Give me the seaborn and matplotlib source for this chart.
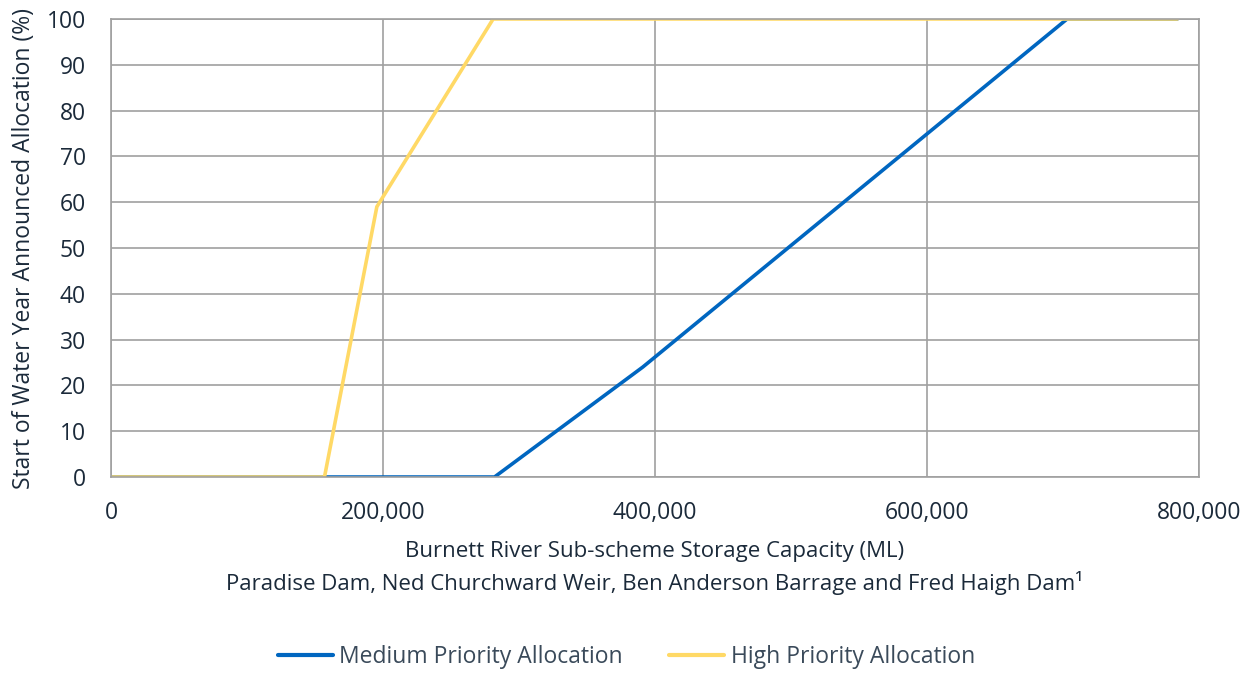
import pandas as pd
import matplotlib
matplotlib.use('Agg')
import matplotlib.pyplot as plt
import seaborn as sns
from matplotlib.ticker import FuncFormatter

# Storage capacity (ML) vs announced allocation (%)
medium_storage = [0, 282000, 391000, 703000, 784000]
medium_alloc = [0, 0, 24, 100, 100]
high_storage = [0, 157000, 195500, 281000, 784000]
high_alloc = [0, 0, 59, 100, 100]

series_names = ["Medium Priority Allocation", "High Priority Allocation"]
line_colors = ["#0066C0", "#FFD966"]

df = pd.concat([
    pd.DataFrame({"storage": medium_storage, "alloc": medium_alloc, "series": series_names[0]}),
    pd.DataFrame({"storage": high_storage, "alloc": high_alloc, "series": series_names[1]}),
])

sns.set_style("white")
plt.rcParams['font.family'] = ['Open Sans', 'DejaVu Sans']
text_color = "#1B2A3A"
grid_color = "#A0A0A0"

fig = plt.figure(figsize=(12.55, 6.73), dpi=100)
ax = fig.add_axes([0.0884, 0.2912, 0.8670, 0.6806])

sns.lineplot(data=df, x="storage", y="alloc", hue="series", palette=line_colors,
             hue_order=series_names, linewidth=2.6, ax=ax, legend=False, sort=False)

ax.set_xlim(0, 800000)
ax.set_ylim(0, 100)
ax.set_xticks(range(0, 800001, 200000))
ax.set_yticks(range(0, 101, 10))
ax.xaxis.set_major_formatter(FuncFormatter(lambda v, p: f"{int(v):,}"))
ax.grid(True, color=grid_color, linewidth=1.2)
ax.set_axisbelow(True)
for s in ax.spines.values():
    s.set_color(grid_color)
    s.set_linewidth(1.2)
ax.tick_params(axis='both', length=0, labelsize=16.5, colors=text_color)
ax.tick_params(axis='x', pad=17)
ax.tick_params(axis='y', pad=18)

ax.set_xlabel("Burnett River Sub-scheme Storage Capacity (ML)\n"
              "Paradise Dam, Ned Churchward Weir, Ben Anderson Barrage and Fred Haigh Dam\u00b9",
              fontsize=16, color=text_color, labelpad=12, linespacing=1.45)
ax.set_ylabel("Start of Water Year Announced Allocation (%)", fontsize=16.5,
              color=text_color, labelpad=8)

# legend below the x label, two columns
handles = [plt.Line2D([], [], color=c, linewidth=3) for c in line_colors]
fig.legend(handles, series_names, loc='center', bbox_to_anchor=(0.499, 0.024), ncol=2,
           frameon=False, fontsize=16.5, labelcolor="#3A4A5A", handlelength=2.4,
           columnspacing=2.0, handletextpad=0.3)

fig.savefig("out.png", dpi=100)
plt.close()
